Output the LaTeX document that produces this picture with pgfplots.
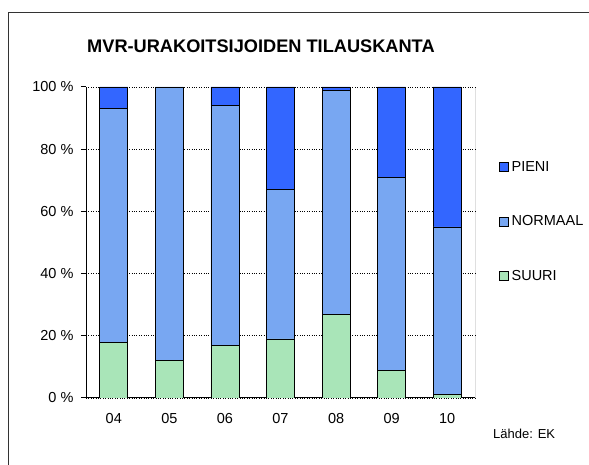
\documentclass[border=0pt]{standalone}
\usepackage{pgfplots}
\pgfplotsset{compat=1.18}
\usepackage{fontspec}
\setmainfont{Liberation Sans}
\definecolor{cSuuri}{HTML}{A9E5B8}
\definecolor{cNorm}{HTML}{78A7F2}
\definecolor{cPieni}{HTML}{3366FF}
\pgfplotsset{mylegend/.style={legend image code/.code={\draw[##1,draw=black,line width=0.8pt] (0pt,-4.5pt) rectangle (9pt,4.5pt);}}}
\begin{document}
\begin{tikzpicture}[x=1pt,y=1pt]
\path[use as bounding box] (0,0) rectangle (589,465);
\draw[line width=1pt,black!80] (8,0) -- (8,452) -- (589,452);
\begin{axis}[
  at={(86pt,67pt)}, anchor=south west,
  scale only axis, width=389pt, height=311pt,
  ybar stacked, bar width=28pt,
  xmin=-0.5, xmax=6.5, ymin=0, ymax=100,
  axis x line*=bottom, axis y line*=left,
  axis line style={line width=1pt, -},
  xtick={0,...,6}, xticklabels={04,05,06,07,08,09,10},
  xtick style={draw=none},
  extra x ticks={-0.5,0.5,1.5,2.5,3.5,4.5,5.5,6.5},
  extra x tick labels={},
  extra x tick style={major tick length=5pt, tick align=outside, tick style={draw=black,line width=1pt}},
  ytick={0,20,40,60,80,100},
  yticklabels={0 \%,20 \%,40 \%,60 \%,80 \%,100 \%},
  ytick style={draw=black,line width=1pt},
  major tick length=5pt, tick align=outside,
  ymajorgrids, grid style={dotted, black, line width=0.8pt},
  ticklabel style={font=\fontsize{14.5}{16}\selectfont},
  /pgf/number format/assume math mode=true,
  xticklabel style={yshift=-7pt},
  yticklabel style={xshift=-4pt},
  legend style={at={(1.062,0.567)}, anchor=west, draw=none, fill=none,
    font=\fontsize{14.5}{16}\selectfont, inner sep=0pt, row sep=38pt,
    nodes={inner sep=2.5pt}},
  reverse legend,
  legend cell align=left,
]
\addplot[fill=cSuuri, draw=black, line width=0.8pt, mylegend] coordinates {(0,18) (1,12) (2,17) (3,19) (4,27) (5,9) (6,1)};
\addplot[fill=cNorm, draw=black, line width=0.8pt, mylegend] coordinates {(0,75) (1,88) (2,77) (3,48) (4,72) (5,62) (6,54)};
\addplot[fill=cPieni, draw=black, line width=0.8pt, mylegend] coordinates {(0,7) (1,0) (2,6) (3,33) (4,1) (5,29) (6,45)};
\legend{SUURI,NORMAAL,PIENI}
\draw[line width=1pt] (rel axis cs:1,0) -- (rel axis cs:1,1);
\end{axis}
\node[anchor=west, inner sep=0pt, font=\fontsize{18.2}{20}\selectfont\bfseries] at (87,419) {MVR-URAKOITSIJOIDEN TILAUSKANTA};
\node[anchor=west, inner sep=0pt, font=\fontsize{13}{15}\selectfont] at (493,31) {Lähde: EK};
\end{tikzpicture}
\end{document}
